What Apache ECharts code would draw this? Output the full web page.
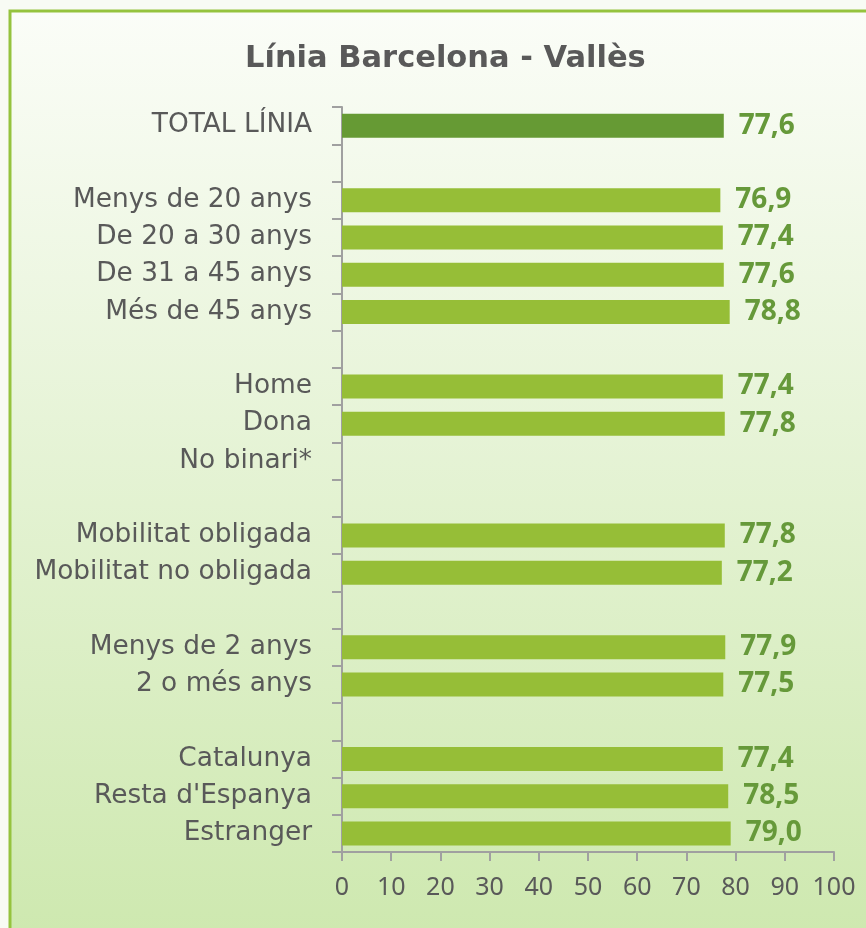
<!DOCTYPE html>
<html>
<head>
<meta charset="utf-8">
<script src="https://cdn.jsdelivr.net/npm/echarts@6/dist/echarts.min.js"></script>
<style>
  html, body { margin: 0; padding: 0; background: #f8fbf4; }
  #chart { width: 866px; height: 928px; }
</style>
</head>
<body>
<div id="chart"></div>
<script>
  // categories top -> bottom, spacer rows are blank
  const categories = [
    'TOTAL LÍNIA', ' ',
    'Menys de 20 anys', 'De 20 a 30 anys', 'De 31 a 45 anys', 'Més de 45 anys', '  ',
    'Home', 'Dona', 'No binari*', '   ',
    'Mobilitat obligada', 'Mobilitat no obligada', '    ',
    'Menys de 2 anys', '2 o més anys', '     ',
    'Catalunya', "Resta d'Espanya", 'Estranger'
  ]
  const values = [
    77.6, null,
    76.9, 77.4, 77.6, 78.8, null,
    77.4, 77.8, null, null,
    77.8, 77.2, null,
    77.9, 77.5, null,
    77.4, 78.5, 79.0
  ]
  const xTicks = [0, 100, 10]  // min, max, interval

  const wideFont = '"DejaVu Sans", sans-serif'
  const numFont = '"Noto Sans", sans-serif'
  const textGray = '#595959'
  const axisGray = '#a0a0a0'

  const chart = echarts.init(document.getElementById('chart'))
  const option = {
    backgroundColor: '#f8fbf4',
    animation: false,
    title: {
      text: 'Línia Barcelona - Vallès',
      left: 240,
      top: 39,
      textStyle: {
        color: textGray,
        fontFamily: wideFont,
        fontWeight: 'bold',
        fontSize: 30.5
      }
    },
    graphic: [{
      type: 'rect',
      z: -10,
      shape: { x: 10, y: 11, width: 880, height: 940 },
      style: {
        fill: new echarts.graphic.LinearGradient(0, 0, 0, 1, [
          { offset: 0, color: '#fbfdf8' },
          { offset: 1, color: '#cde8ae' }
        ]),
        stroke: '#95c33e',
        lineWidth: 3
      }
    }],
    grid: {
      left: 342,
      right: 32,
      top: 107,
      bottom: 76,
      containLabel: false
    },
    xAxis: {
      type: 'value',
      min: xTicks[0],
      max: xTicks[1],
      interval: xTicks[2],
      splitLine: { show: false },
      axisLine: { show: true, lineStyle: { color: axisGray, width: 2 } },
      axisTick: { show: true, length: 9, lineStyle: { color: axisGray, width: 2 } },
      axisLabel: {
        color: textGray,
        fontFamily: numFont,
        fontSize: 25,
        margin: 23
      }
    },
    yAxis: {
      type: 'category',
      inverse: true,
      data: categories,
      axisLine: { show: true, lineStyle: { color: axisGray, width: 2 } },
      axisTick: { show: true, length: 10, interval: 0, lineStyle: { color: axisGray, width: 2 } },
      axisLabel: {
        interval: 0,
        color: textGray,
        fontFamily: wideFont,
        fontSize: 26.4,
        margin: 30
      }
    },
    series: [{
      type: 'bar',
      barWidth: 24,
      data: values.map((v, i) => ({
        value: v,
        itemStyle: { color: i === 0 ? '#669a34' : '#96be37' }
      })),
      label: {
        show: true,
        position: 'right',
        distance: 15,
        color: '#66993a',
        fontFamily: numFont,
        fontWeight: 'bold',
        fontSize: 28,
        formatter: p => p.value == null ? '' : p.value.toFixed(1).replace('.', ',')
      }
    }]
  }
  chart.setOption(option)
</script>
</body>
</html>
